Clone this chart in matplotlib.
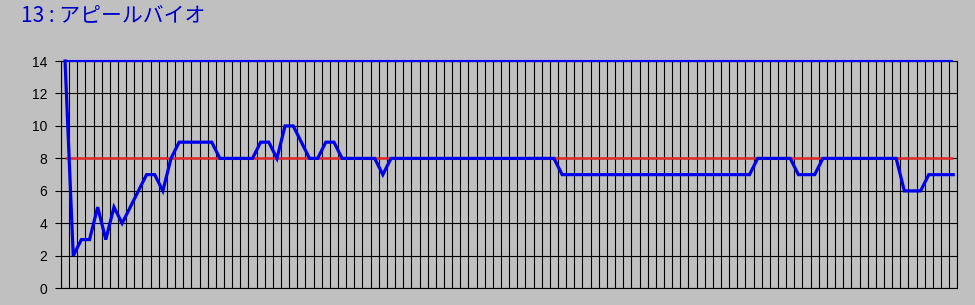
import matplotlib
matplotlib.use("Agg")
import matplotlib.pyplot as plt
import numpy as np

plt.rcParams['font.family'] = ['Noto Sans CJK JP', 'DejaVu Sans']

titulo = "13 : アピールバイオ"
valores = [14, 2, 3, 3, 5, 3, 5, 4, 5, 6, 7, 7, 6, 8,
           9, 9, 9, 9, 9, 8, 8, 8, 8, 8, 9, 9, 8, 10, 10, 9,
           8, 8, 9, 9, 8, 8, 8, 8, 8, 7,
           8, 8, 8, 8, 8, 8, 8, 8, 8, 8, 8, 8, 8, 8, 8, 8, 8, 8, 8, 8, 8,
           7, 7, 7, 7, 7, 7, 7, 7, 7, 7, 7, 7, 7, 7, 7, 7, 7, 7, 7, 7, 7, 7, 7, 7,
           8, 8, 8, 8, 8, 7, 7, 7,
           8, 8, 8, 8, 8, 8, 8, 8, 8, 8,
           6, 6, 6, 7, 7, 7, 7]
linha_ref = 8
linha_topo = 14
y_ticks = [0, 2, 4, 6, 8, 10, 12, 14]

x = np.arange(len(valores))

fig = plt.figure(figsize=(9.75, 3.05), dpi=100, facecolor='#c0c0c0')
ax = fig.add_axes([61/975, 1 - 288.3/305, 896.3/975, 227.3/305])
ax.set_facecolor('#c0c0c0')

ax.hlines(linha_ref, x[0], x[-1], colors='#e02828', linewidth=1.8, zorder=3)
ax.hlines(linha_topo, x[0], x[-1], colors='#0000ff', linewidth=1.5, zorder=4, clip_on=False)
ax.plot(x, valores, color='#0000ee', linewidth=2.3, zorder=5, clip_on=False,
        solid_joinstyle='miter')

ax.set_xlim(-0.5, len(valores) - 0.5)
ax.set_ylim(0, 14)
ax.set_yticks(y_ticks)
ax.set_yticklabels([str(v) for v in y_ticks], family='Liberation Sans', fontsize=10)
ax.set_xticks(np.arange(len(valores) + 1) - 0.5)
ax.set_xticklabels([])
ax.tick_params(axis='x', length=0)
ax.tick_params(axis='y', length=4, width=0.8, color='black', pad=6)
ax.grid(True, color='black', linewidth=0.8)
ax.set_axisbelow(True)
for s in ax.spines.values():
    s.set_color('black')
    s.set_linewidth(0.8)

fig.text(21/975, 1 - 15/305, titulo, color='#0000c8', fontsize=15, va='center', ha='left')

fig.savefig('out.png', dpi=100, facecolor='#c0c0c0')
